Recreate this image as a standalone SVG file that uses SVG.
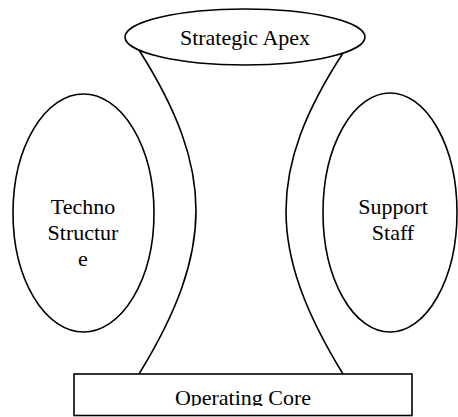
<svg xmlns="http://www.w3.org/2000/svg" width="458" height="417" viewBox="0 0 458 417">
<style>
.s{fill:#fff;stroke:#000;stroke-width:1.6}
.c{fill:none;stroke:#000;stroke-width:1.6}
.t{font-family:'Liberation Serif','DejaVu Serif',serif;font-size:22px;fill:#000;text-anchor:middle}
</style>
<defs>
<clipPath id="clipcore"><rect x="74" y="374" width="340" height="32"/></clipPath>
</defs>
<rect width="458" height="417" fill="#fff"/>
<g id="connectors">
<path class="c" d="M139,50 C215,170 215,250 139,374"/>
<path class="c" d="M343,53 C267,170 267,250 343,374"/>
</g>
<g id="apex">
<ellipse class="c" cx="245" cy="37" rx="120" ry="28"/>
<text class="t" x="245" y="45" font-family="Liberation Serif, serif">Strategic Apex</text>
</g>
<g id="techno">
<ellipse class="s" cx="83.5" cy="213" rx="70.5" ry="119"/>
<text class="t" x="83" y="214" font-family="Liberation Serif, serif">Techno</text>
<text class="t" x="83" y="240" font-family="Liberation Serif, serif">Structur</text>
<text class="t" x="83" y="266" font-family="Liberation Serif, serif">e</text>
</g>
<g id="support">
<ellipse class="s" cx="390" cy="212.5" rx="67" ry="119.5"/>
<text class="t" x="393" y="214" font-family="Liberation Serif, serif">Support</text>
<text class="t" x="393" y="240" font-family="Liberation Serif, serif">Staff</text>
</g>
<g id="core">
<rect class="s" x="74" y="374" width="338" height="41.5"/>
<text class="t" x="243" y="405" clip-path="url(#clipcore)" font-family="Liberation Serif, serif">Operating Core</text>
</g>
</svg>
